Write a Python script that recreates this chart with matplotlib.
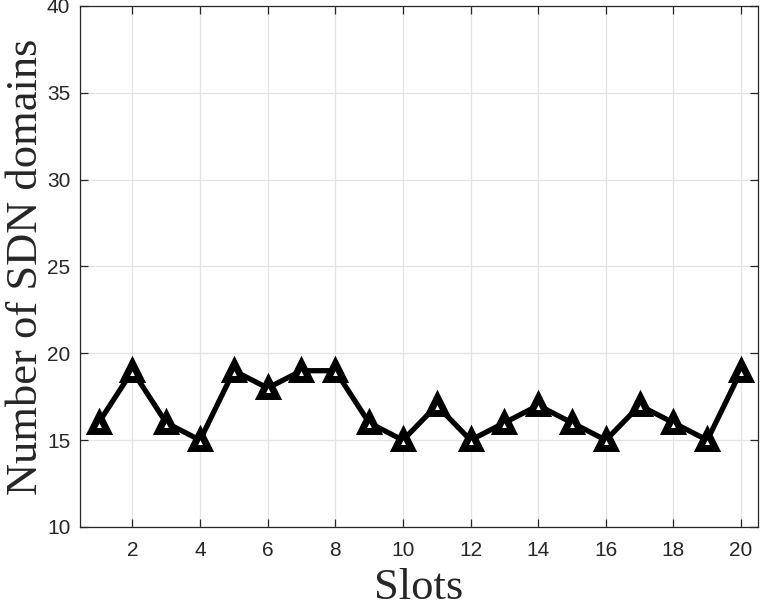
import matplotlib
matplotlib.use("Agg")
import matplotlib.pyplot as plt

slots = list(range(1, 21))
domains = [16, 19, 16, 15, 19, 18, 19, 19, 16, 15, 17, 15, 16, 17, 16, 15, 17, 16, 15, 19]
xticks = [2, 4, 6, 8, 10, 12, 14, 16, 18, 20]
yticks = [10, 15, 20, 25, 30, 35, 40]

fig = plt.figure(figsize=(7.61, 6.07), dpi=100)
ax = fig.add_axes([80/761, 1 - 527/607, (758-80)/761, (527-6)/607])

ax.plot(slots, domains, color='black', linewidth=3.8, marker='^', markersize=11,
        markerfacecolor='white', markeredgecolor='black', markeredgewidth=5, zorder=3)

ax.set_xlim(0.45, 20.5)
ax.set_ylim(10, 40)
ax.set_xticks(xticks)
ax.set_yticks(yticks)
ax.grid(True, color='#e3e3e3', linewidth=0.9)
ax.set_axisbelow(True)

axcol = '#262626'
for s in ax.spines.values():
    s.set_color(axcol)
    s.set_linewidth(0.9)
ax.tick_params(direction='in', length=6, width=0.9, color=axcol, labelcolor=axcol,
               labelsize=15, top=True, right=True)
ax.tick_params(axis='x', pad=10)
ax.tick_params(axis='y', pad=7)
for lab in ax.get_xticklabels() + ax.get_yticklabels():
    lab.set_fontfamily('Liberation Sans')

ax.set_xlabel('Slots', fontfamily='Liberation Serif', fontsize=32, color='#262626', labelpad=6)
ax.set_ylabel('Number of SDN domains', fontfamily='Liberation Serif', fontsize=32, color='#262626', labelpad=1)

fig.savefig('out.png', dpi=100)
